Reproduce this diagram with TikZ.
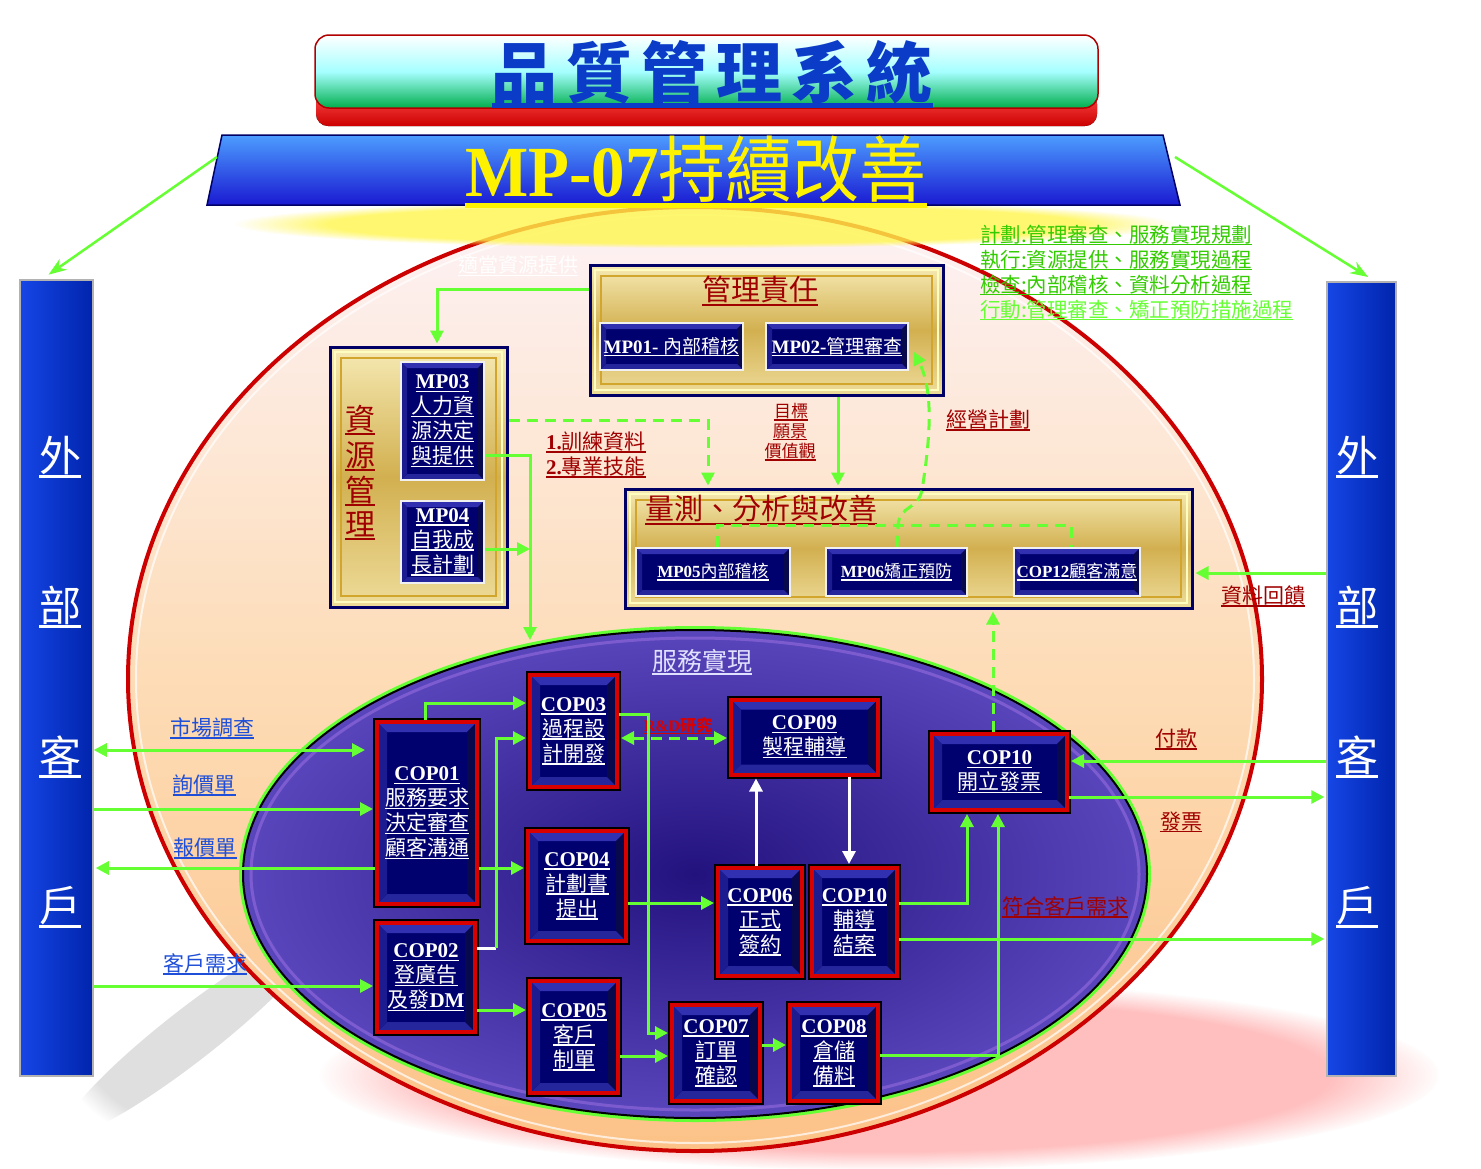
\documentclass[tikz,border=0pt]{standalone}
\usepackage{graphicx}
\usepackage{fontspec}
\setmainfont{Liberation Serif}
\newfontfamily\cjk{Noto Sans CJK TC}
\usetikzlibrary{arrows.meta,shapes.geometric,fadings}
\definecolor{lgreen}{HTML}{66FF33}
\definecolor{mgreen}{HTML}{33CC00}
\definecolor{navyc}{HTML}{00006E}
\definecolor{dred}{HTML}{A00000}
\definecolor{labblue}{HTML}{1F4FD8}
\definecolor{bvtop}{HTML}{3030B0}
\definecolor{bvleft}{HTML}{1C1C90}
\definecolor{bvright}{HTML}{08084C}
\definecolor{bvbot}{HTML}{26269C}
\definecolor{goldT}{HTML}{F6EAB4}
\definecolor{goldM}{HTML}{D2B050}
\definecolor{goldB}{HTML}{EEDC9A}
\definecolor{barL}{HTML}{1646E6}
\definecolor{barR}{HTML}{0024AC}
\definecolor{titblue}{HTML}{0A3CC8}
\definecolor{purpO}{HTML}{5A46BC}
\definecolor{purpI}{HTML}{22127E}
\definecolor{peachT}{HTML}{FDF2F6}
\definecolor{peachM}{HTML}{FDDCB6}
\definecolor{peachB}{HTML}{FCC288}
\newcommand\fs[2]{\fontsize{#1}{#2}\selectfont}
\newcommand\uln[1]{\leavevmode\setbox0=\hbox{#1}\rlap{\vrule height -0.09em depth 0.16em width \wd0}\box0}
\newcommand\cjkl[1]{\uln{\cjk #1}}
\newcommand\latl[1]{\uln{\bfseries #1}}
\tikzset{
  bevel/.style={path picture={
    \path (path picture bounding box.north west) coordinate (b1)
          (path picture bounding box.north east) coordinate (b2)
          (path picture bounding box.south east) coordinate (b3)
          (path picture bounding box.south west) coordinate (b4)
          ([shift={(#1,-#1)}]b1) coordinate (c1)
          ([shift={(-#1,-#1)}]b2) coordinate (c2)
          ([shift={(-#1,#1)}]b3) coordinate (c3)
          ([shift={(#1,#1)}]b4) coordinate (c4);
    \fill[bvtop] (b1)--(b2)--(c2)--(c1)--cycle;
    \fill[bvright] (b2)--(b3)--(c3)--(c2)--cycle;
    \fill[bvbot] (b3)--(b4)--(c4)--(c3)--cycle;
    \fill[bvleft] (b4)--(b1)--(c1)--(c4)--cycle;
  }},
  goldbevel/.style={path picture={
    \draw[white!75!yellow, line width=2.5pt] ([shift={(5pt,-5pt)}]path picture bounding box.north west) rectangle ([shift={(-5pt,5pt)}]path picture bounding box.south east);
    \draw[brown!70!yellow, line width=1.2pt] ([shift={(11pt,-11pt)}]path picture bounding box.north west) rectangle ([shift={(-11pt,11pt)}]path picture bounding box.south east);
  }},
  cop/.style={rectangle, draw=red!85!black, line width=4pt, preaction={draw=black, line width=8pt},
    fill=navyc, inner sep=0pt, align=center, text=white, font=\fs{21}{25}, bevel=10pt},
  sub/.style={rectangle, draw=white!88!gray, line width=2.5pt, fill=navyc, inner sep=0pt,
    align=center, text=white, bevel=6pt},
  gold/.style={rectangle, draw=blue!40!black, line width=3pt, inner sep=0pt,
    top color=goldT, bottom color=goldB, middle color=goldM, goldbevel},
  sidebar/.style={rectangle, draw=gray!60, line width=1.5pt, inner sep=0pt,
    left color=barL, right color=barR},
  barch/.style={text=white, font=\fs{42}{44}\cjk, inner sep=0pt},
  lab/.style={inner sep=0pt, font=\fs{21}{24}},
  gl/.style={draw=lgreen, line width=3pt},
  tip/.style={-{Triangle[length=13pt,width=13pt]}},
  ga/.style={gl, tip, shorten >=2pt},
  gd/.style={gl, dash pattern=on 11pt off 7pt},
  gda/.style={gd, tip, shorten >=2pt},
  wa/.style={draw=white, line width=3pt, tip, shorten >=2pt},
}
\begin{document}
\begin{tikzpicture}[x=1pt,y=-1pt]
\useasboundingbox (0,0) rectangle (1481,1168);
\fill[white] (0,0) rectangle (1481,1168);

% shadows
\fill[red!25!white, path fading=circle with fuzzy edge 20 percent] (880,1075) ellipse [x radius=560, y radius=95];
\fill[gray!25, path fading=circle with fuzzy edge 20 percent, rotate around={38:(190,1035)}] (190,1035) ellipse [x radius=160, y radius=26];

% big ellipse
\path[draw=red!80!black, line width=4pt, top color=peachT, bottom color=peachB, middle color=peachM]
  (695,679) ellipse [x radius=567, y radius=472];
\draw[white, line width=2pt, opacity=0.7] (695,679) ellipse [x radius=559, y radius=464];

% yellow glow
\fill[yellow!70!white, opacity=0.8, path fading=circle with fuzzy edge 20 percent] (705,224) ellipse [x radius=470, y radius=24];

% title
\fill[rounded corners=12pt, top color=red!70!white, bottom color=red!80!black] (316,92) rectangle (1097,126);
\path[rounded corners=14pt, draw=red!70!black, line width=1.5pt, top color=white, bottom color=green!55!black!70!cyan, middle color=cyan!35!white]
  (315,35) rectangle (1098,108);
\node[text=titblue, font=\fs{66}{68}\cjk\bfseries, inner sep=0pt] (title) at (712,74) {\uln{品\kern9pt 質\kern9pt 管\kern9pt 理\kern9pt 系\kern9pt 統}};

% banner
\path[top color=blue!55!cyan!70!white, bottom color=blue!80!black!90, draw=blue!40!black, line width=1.5pt]
  (222,135) -- (1163,135) -- (1180,205) -- (207,205) -- cycle;
\node[text=yellow, inner sep=0pt] (banner) at (696,172)
  {\scalebox{0.93}[1]{\fs{72}{74}\uln{\bfseries MP-07{\cjk\mdseries 持續改善}}}};
\coordinate (banL) at (217,157);
\coordinate (banR) at (1175,157);

% side bars
\node[sidebar, minimum width=73pt, minimum height=796pt] (lbar) at (56.5,678) {};
\node[sidebar, minimum width=69pt, minimum height=794pt] (rbar) at (1361.5,679) {};
\node[barch] (l1) at (60,457) {\uln{外}};
\node[barch] (l2) at (60,607) {\uln{部}};
\node[barch] (l3) at (60,757) {\uln{客}};
\node[barch] (l4) at (60,907) {\uln{戶}};
\node[barch] (r1) at (1357,457) {\uln{外}};
\node[barch] (r2) at (1357,607) {\uln{部}};
\node[barch] (r3) at (1357,757) {\uln{客}};
\node[barch] (r4) at (1357,907) {\uln{戶}};
\draw[draw=lgreen, line width=2.5pt, -{Stealth[length=18pt,width=13pt]}, shorten >=8pt] (banL) -- (lbar.north west -| 42,0);
\draw[draw=lgreen, line width=2.5pt, -{Stealth[length=18pt,width=13pt]}, shorten >=8pt] (banR) -- (rbar.north east -| 1375,0);

% inner ellipse
\node[ellipse, minimum width=904pt, minimum height=488pt, inner sep=0pt, draw=black, line width=2pt,
  preaction={draw=lgreen, line width=8pt}, inner color=purpI, outer color=purpO] (svc) at (695,874) {};
\draw[violet!50!blue!60!white, line width=3pt, opacity=0.7] (695,874) ellipse [x radius=444, y radius=236];
\node[lab, text=blue!12!white, font=\fs{25}{28}\cjk] (svct) at (702,662) {\uln{服務實現}};

% gold boxes
\node[gold, minimum width=353pt, minimum height=130pt] (mgmt) at (766.5,330) {};
\node[gold, minimum width=177pt, minimum height=260pt] (res) at (418.5,477) {};
\node[gold, minimum width=567pt, minimum height=119pt] (meas) at (908.5,548.5) {};

\node[lab, text=dred, font=\fs{29}{30}\cjk] (mgmtT) at (760,291) {\uln{管理責任}};
\node[lab, text=dred, font=\fs{29}{30}\cjk, anchor=west] (measT) at (645,510) {\uln{量測、分析與改善}};
\node[lab, text=dred, font=\fs{30}{32}\cjk] (resT1) at (360,420) {\uln{資}};
\node[lab, text=dred, font=\fs{30}{32}\cjk] (resT2) at (360,456) {\uln{源}};
\node[lab, text=dred, font=\fs{30}{32}\cjk] (resT3) at (360,491) {\uln{管}};
\node[lab, text=dred, font=\fs{30}{32}\cjk] (resT4) at (360,526) {\uln{理}};

\node[sub, minimum width=143pt, minimum height=47pt, font=\fs{19}{21}] (mp01) at (671.5,346.5) {\uln{\bfseries MP01- {\cjk\mdseries 內部稽核}}};
\node[sub, minimum width=142pt, minimum height=47pt, font=\fs{19}{21}] (mp02) at (837,346.5) {\uln{\bfseries MP02-{\cjk\mdseries 管理審查}}};
\node[sub, minimum width=83pt, minimum height=118pt, font=\fs{21}{25}] (mp03) at (442.5,421) {\latl{MP03}\\\cjkl{人力資}\\\cjkl{源決定}\\\cjkl{與提供}};
\node[sub, minimum width=83pt, minimum height=82pt, font=\fs{21}{25}] (mp04) at (442.5,542) {\latl{MP04}\\\cjkl{自我成}\\\cjkl{長計劃}};
\node[sub, minimum width=154pt, minimum height=48pt, font=\fs{17}{19}] (mp05) at (713,572) {\uln{\bfseries MP05{\cjk\mdseries 內部稽核}}};
\node[sub, minimum width=141pt, minimum height=48pt, font=\fs{17}{19}] (mp06) at (896.5,572) {\uln{\bfseries MP06{\cjk\mdseries 矯正預防}}};
\node[sub, minimum width=126pt, minimum height=48pt, font=\fs{17}{19}] (cop12) at (1077,572) {\uln{\bfseries COP12{\cjk\mdseries 顧客滿意}}};

% COP boxes
\node[cop, minimum width=100pt, minimum height=182pt] (cop01) at (427,813) {\latl{COP01}\\\cjkl{服務要求}\\\cjkl{決定審查}\\\cjkl{顧客溝通}};
\node[cop, minimum width=98pt, minimum height=109pt] (cop02) at (426,977.5) {\latl{COP02}\\\cjkl{登廣告}\\\uln{{\cjk 及發}\bfseries DM}};
\node[cop, minimum width=87pt, minimum height=112pt] (cop03) at (573.5,731) {\latl{COP03}\\\cjkl{過程設}\\\cjkl{計開發}};
\node[cop, minimum width=98pt, minimum height=110pt] (cop04) at (577,886) {\latl{COP04}\\\cjkl{計劃書}\\\cjkl{提出}};
\node[cop, minimum width=88pt, minimum height=112pt] (cop05) at (574,1037) {\latl{COP05}\\\cjkl{客戶}\\\cjkl{制單}};
\node[cop, minimum width=147pt, minimum height=75pt] (cop09) at (804.5,737) {\latl{COP09}\\\cjkl{製程輔導}};
\node[cop, minimum width=84pt, minimum height=108pt] (cop06) at (760,922) {\latl{COP06}\\\cjkl{正式}\\\cjkl{簽約}};
\node[cop, minimum width=85pt, minimum height=108pt] (cop10b) at (854.5,922) {\latl{COP10}\\\cjkl{輔導}\\\cjkl{結案}};
\node[cop, minimum width=135pt, minimum height=76pt] (cop10a) at (999.5,772) {\latl{COP10}\\\cjkl{開立發票}};
\node[cop, minimum width=88pt, minimum height=96pt] (cop07) at (716,1053) {\latl{COP07}\\\cjkl{訂單}\\\cjkl{確認}};
\node[cop, minimum width=88pt, minimum height=96pt] (cop08) at (834,1053) {\latl{COP08}\\\cjkl{倉儲}\\\cjkl{備料}};

% labels
\node[lab, text=white, font=\fs{20}{22}\cjk] (adeq) at (518,266) {\uln{適當資源提供}};
\node[lab, text=mgreen, anchor=west, font=\fs{20.5}{22}\cjk] (pd1) at (980,235) {\uln{計劃:管理審查、服務實現規劃}};
\node[lab, text=mgreen, anchor=west, font=\fs{20.5}{22}\cjk] (pd2) at (980,260) {\uln{執行:資源提供、服務實現過程}};
\node[lab, text=mgreen, anchor=west, font=\fs{20.5}{22}\cjk] (pd3) at (980,285) {\uln{檢查:內部稽核、資料分析過程}};
\node[lab, text=lgreen, anchor=west, font=\fs{20.5}{22}\cjk] (pd4) at (980,310) {\uln{行動:管理審查、矯正預防措施過程}};
\node[lab, text=dred, anchor=west] (tr1) at (546,442) {\uln{\bfseries 1.{\cjk\mdseries 訓練資料}}};
\node[lab, text=dred, anchor=west] (tr2) at (546,467) {\uln{\bfseries 2.{\cjk\mdseries 專業技能}}};
\node[lab, text=dred, font=\fs{17}{19}\cjk] (gv1) at (791,412) {\uln{目標}};
\node[lab, text=dred, font=\fs{17}{19}\cjk] (gv2) at (790,432) {\uln{願景}};
\node[lab, text=dred, font=\fs{17}{19}\cjk] (gv3) at (790,452) {\uln{價值觀}};
\node[lab, text=dred, font=\fs{21}{24}\cjk] (biz) at (988,420) {\uln{經營計劃}};
\node[lab, text=dred, font=\fs{21}{24}\cjk] (fb) at (1263,596) {\uln{資料回饋}};
\node[lab, text=dred, font=\fs{21}{24}\cjk] (pay) at (1176,739) {\uln{付款}};
\node[lab, text=dred, font=\fs{21}{24}\cjk] (inv) at (1181,822) {\uln{發票}};
\node[lab, text=dred, font=\fs{21}{24}\cjk] (meet) at (1065,907) {\uln{符合客戶需求}};
\node[lab, text=red!85!black, font=\fs{16}{18}] (rd) at (678,726) {\uln{\bfseries R\&D{\cjk 研究}}};
\node[lab, text=labblue, font=\fs{21}{24}\cjk] (mk) at (212,728) {\uln{市場調查}};
\node[lab, text=labblue, font=\fs{21}{24}\cjk] (inq) at (204,785) {\uln{詢價單}};
\node[lab, text=labblue, font=\fs{21}{24}\cjk] (quo) at (205,848) {\uln{報價單}};
\node[lab, text=labblue, font=\fs{21}{24}\cjk] (need) at (205,964) {\uln{客戶需求}};

% connectors upper part
\draw[ga] (mgmt.west |- 0,289) -| (res.north -| 437,0);
\coordinate (svcIn) at (530,642);
\draw[ga] (mp03.east |- 0,455) -| (svcIn);
\coordinate (mp4j) at (532,549);
\draw[ga] (mp04.east |- 0,549) -- (mp4j);
\draw[gda] (res.east |- 0,420) -| (meas.north -| 708,0);
\draw[ga] (mgmt.south -| 838,0) -- (meas.north -| 838,0);
\coordinate (mp2tip) at (913,350);
\draw[gda] (mp06.north -| 897,0) -- (898,525) .. controls (900,505) and (918,510) .. (922,490) .. controls (930,440) and (934,392) .. (mp2tip);
\draw[gd] (mp05.north -| 717,0) -- (717,525) -- (1071,525) -- (cop12.north -| 1071,0);
\draw[ga] (rbar.west |- 0,573) -- (meas.east |- 0,573);
\draw[gda] (cop10a.north -| 993,0) -- (meas.south -| 993,0);

% left side
\draw[gl, {Triangle[length=13pt,width=13pt]}-{Triangle[length=13pt,width=13pt]}, shorten >=10pt] (lbar.east |- 0,750) -- (cop01.west |- 0,750);
\draw[ga] (lbar.east |- 0,809) -- (cop01.west |- 0,809);
\draw[ga] (cop01.west |- 0,868) -- (lbar.east |- 0,868);
\draw[ga] (lbar.east |- 0,986) -- (cop02.west |- 0,986);

% service realization
\draw[ga] (cop01.north -| 425,0) |- (cop03.west |- 0,703);
\coordinate (j1) at (496,948);
\draw[white, line width=3pt] (cop02.east |- 0,948) -- (j1);
\draw[ga] (j1) |- (cop03.west |- 0,738);
\draw[ga] (cop01.east |- 0,868) -- (cop04.west |- 0,868);
\draw[ga] (cop02.east |- 0,1010) -- (cop05.west |- 0,1010);
\draw[ga] (cop03.east |- 0,714) -- (648,714) |- (cop07.west |- 0,1033);
\draw[gd, {Triangle[length=13pt,width=13pt]}-{Triangle[length=13pt,width=13pt]}, shorten >=2pt, shorten <=2pt] (cop03.east |- 0,738) -- (cop09.west |- 0,738);
\draw[ga] (cop04.east |- 0,903) -- (cop06.west |- 0,903);
\draw[wa] (cop06.north -| 756,0) -- (cop09.south -| 756,0);
\draw[wa] (cop09.south -| 849,0) -- (cop10b.north -| 849,0);
\draw[ga] (cop10b.east |- 0,903) -| (cop10a.south -| 967,0);
\draw[ga] (cop10b.east |- 0,939) -- (rbar.west |- 0,939);
\draw[ga] (cop08.east |- 0,1055) -| (cop10a.south -| 998,0);
\draw[ga] (cop05.east |- 0,1056) -- (cop07.west |- 0,1056);
\draw[ga] (cop07.east |- 0,1045) -- (cop08.west |- 0,1045);
\draw[ga] (rbar.west |- 0,761) -- (cop10a.east |- 0,761);
\draw[ga] (cop10a.east |- 0,797) -- (rbar.west |- 0,797);
\end{tikzpicture}
\end{document}
